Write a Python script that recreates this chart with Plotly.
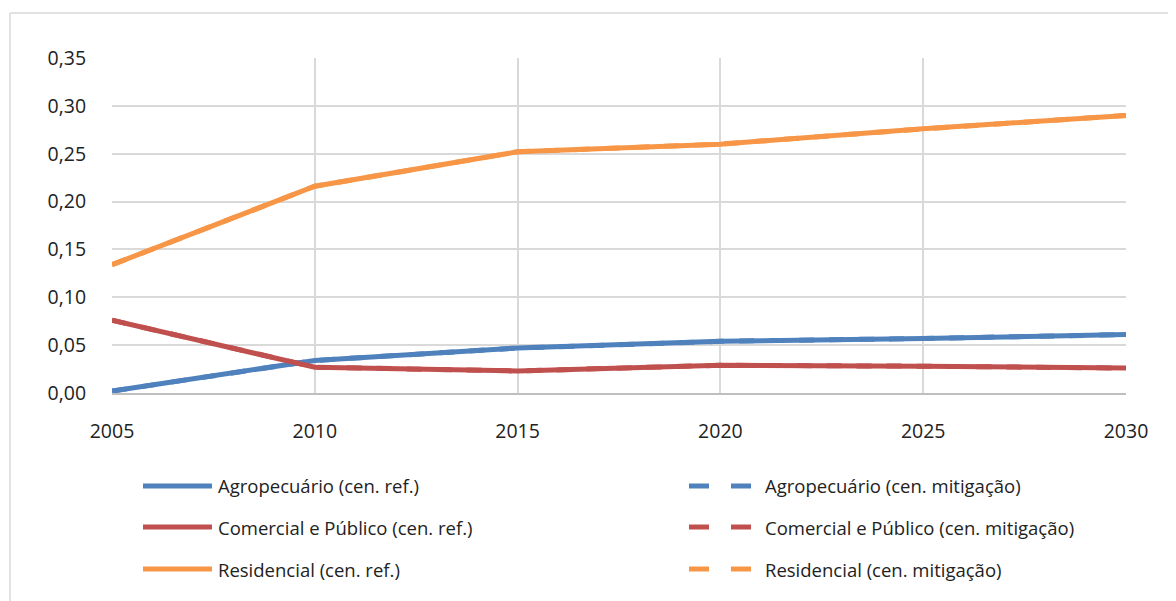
import plotly.graph_objects as go

years = [2005, 2010, 2015, 2020, 2025, 2030]
agro_ref = [0.002, 0.034, 0.047, 0.054, 0.057, 0.061]
com_ref = [0.076, 0.027, 0.023, 0.029, 0.028, 0.026]
res_ref = [0.134, 0.216, 0.252, 0.260, 0.276, 0.290]
agro_mit = [0.002, 0.034, 0.047, 0.054, 0.057, 0.061]
com_mit = [0.076, 0.027, 0.023, 0.029, 0.028, 0.026]
res_mit = [0.134, 0.216, 0.252, 0.260, 0.276, 0.290]
y_ticks = [0.0, 0.05, 0.10, 0.15, 0.20, 0.25, 0.30, 0.35]

names_ref = ["Agropecuário (cen. ref.)", "Comercial e Público (cen. ref.)", "Residencial (cen. ref.)"]
names_mit = ["Agropecuário (cen. mitigação)", "Comercial e Público (cen. mitigação)", "Residencial (cen. mitigação)"]
colors = ["#4F81BD", "#C0504D", "#F79646"]

OFF = 8  # page body margin
W, H = 1176 - OFF, 601 - OFF
L, R, T, B = 112 - OFF, 1126 - OFF, 58 - OFF, 393 - OFF

fig = go.Figure()
for vals, name, c in zip([agro_mit, com_mit, res_mit], names_mit, colors):
    fig.add_trace(go.Scatter(x=years, y=vals, name=name, mode="lines",
                             line=dict(color=c, width=5, dash="dash"), showlegend=False))
for vals, name, c in zip([agro_ref, com_ref, res_ref], names_ref, colors):
    fig.add_trace(go.Scatter(x=years, y=vals, name=name, mode="lines",
                             line=dict(color=c, width=5), showlegend=False))

def px(x):
    return (x - OFF - L) / (R - L)

def py(y):
    return (B - (y - OFF)) / (B - T)

shapes = []
annotations = []
rows = [486, 527, 569]
FONT = "Open Sans, Noto Sans, sans-serif"
font = dict(family=FONT, size=18.5, color="#222222")
for i, (c, nr, nm) in enumerate(zip(colors, names_ref, names_mit)):
    yy = py(rows[i])
    shapes.append(dict(type="line", xref="paper", yref="paper", x0=px(143), x1=px(212),
                       y0=yy, y1=yy, line=dict(color=c, width=5)))
    annotations.append(dict(xref="paper", yref="paper", x=px(216), y=yy, text=nr,
                            showarrow=False, xanchor="left", yanchor="middle", font=font))
    for a, b in [(689, 709), (731, 751)]:
        shapes.append(dict(type="line", xref="paper", yref="paper", x0=px(a), x1=px(b),
                           y0=yy, y1=yy, line=dict(color=c, width=5)))
    annotations.append(dict(xref="paper", yref="paper", x=px(763), y=yy, text=nm,
                            showarrow=False, xanchor="left", yanchor="middle", font=font))

# outer frame (top and left edges)
shapes.append(dict(type="line", xref="paper", yref="paper", x0=px(10), x1=px(1180),
                   y0=py(13), y1=py(13), line=dict(color="#D9D9D9", width=1.5)))
shapes.append(dict(type="line", xref="paper", yref="paper", x0=px(10), x1=px(10),
                   y0=py(13), y1=py(610), line=dict(color="#D9D9D9", width=1.5)))

fig.update_layout(
    width=W, height=H,
    margin=dict(l=L, r=W - R, t=T, b=H - B),
    paper_bgcolor="white", plot_bgcolor="white",
    separators=",.",
    showlegend=False,
    shapes=shapes, annotations=annotations,
    font=dict(family=FONT, size=19.5, color="#222222"),
    xaxis=dict(range=[2005, 2030], tickvals=years, showgrid=True, gridcolor="#D9D9D9",
               gridwidth=1.5, zeroline=False, showline=True, linecolor="#BFBFBF", linewidth=1.5,
               ticks="outside", ticklen=20, tickcolor="rgba(0,0,0,0)", mirror=False,
               tickfont=dict(size=19.5)),
    yaxis=dict(range=[0, 0.35], tickvals=y_ticks, tickformat=".2f", showgrid=True,
               gridcolor="#D9D9D9", gridwidth=1.5, zeroline=False, showline=False,
               ticks="outside", ticklen=21, tickcolor="rgba(0,0,0,0)",
               tickfont=dict(size=19.5)),
)

fig.write_html("out.html")
